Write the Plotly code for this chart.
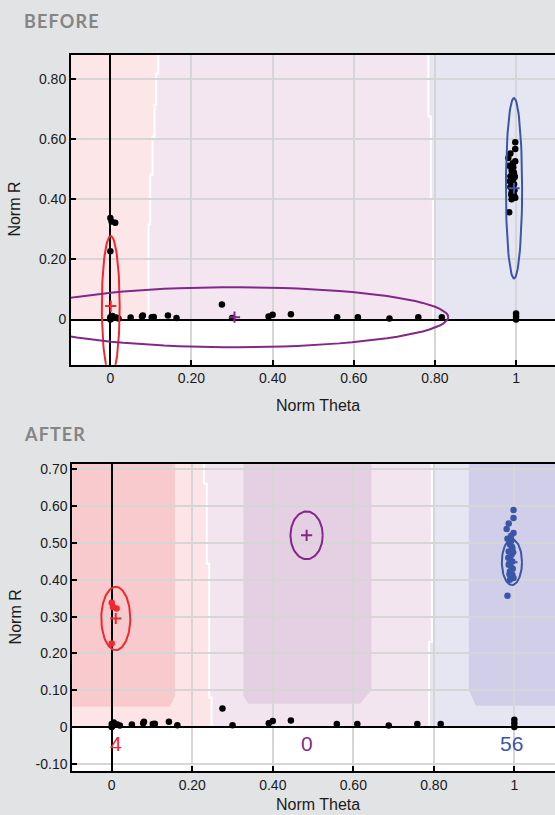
import numpy as np
import plotly.graph_objects as go

# ---------------- data ----------------
# unclassified points lying near r = 0
other_theta = [0.0, 0.0, 0.003, 0.005, 0.014, 0.02, 0.05, 0.078, 0.08, 0.102, 0.107, 0.142, 0.163,
               0.275, 0.30, 0.39, 0.40, 0.445, 0.559, 0.61, 0.688, 0.759, 0.817, 1.0, 1.0, 1.0]
other_r = [0.0, 0.008, 0.004, 0.012, 0.007, 0.004, 0.007, 0.01, 0.014, 0.008, 0.009, 0.014, 0.005,
           0.05, 0.005, 0.01, 0.016, 0.018, 0.008, 0.008, 0.004, 0.008, 0.008, 0.0, 0.01, 0.02]
# points that end up in the red cluster
red_theta = [0.0, 0.003, 0.012, 0.0]
red_r = [0.338, 0.326, 0.322, 0.227]
# points that end up in the blue cluster
blue_theta = [0.998, 0.998, 0.986, 0.981, 0.998, 0.983, 0.993, 0.989, 0.995, 0.986, 0.993, 0.989,
              0.995, 0.986, 0.993, 0.989, 0.995, 0.998, 0.989, 0.983, 0.992, 0.997, 0.985, 0.99,
              0.996, 0.988, 0.994, 0.991]
blue_r = [0.590, 0.568, 0.553, 0.538, 0.527, 0.512, 0.507, 0.496, 0.486, 0.477, 0.468, 0.459,
          0.450, 0.441, 0.432, 0.423, 0.414, 0.405, 0.400, 0.357, 0.520, 0.475, 0.460, 0.445,
          0.430, 0.415, 0.490, 0.505]

cluster_names = ["red", "purple", "blue"]
before_center_theta = [0.001, 0.306, 0.995]
before_center_r = [0.045, 0.008, 0.437]
before_semi_theta = [0.022, 0.527, 0.020]
before_semi_r = [0.233, 0.100, 0.300]
after_center_theta = [0.010, 0.484, 0.994]
after_center_r = [0.295, 0.521, 0.448]
after_semi_theta = [0.036, 0.040, 0.025]
after_semi_r = [0.086, 0.065, 0.062]
after_counts = ["4", "0", "56"]

# region boundaries (theta at given r)
before_pink_edge_r = [0, 0.316, 0.316, 0.482, 0.482, 0.609, 0.609, 0.714, 0.714, 0.819, 0.819, 0.95]
before_pink_edge_theta = [0.094, 0.094, 0.098, 0.098, 0.104, 0.104, 0.109, 0.109, 0.113, 0.113, 0.118, 0.118]
before_blue_edge_r = [0, 0.40, 0.40, 0.676, 0.676, 0.95]
before_blue_edge_theta = [0.796, 0.796, 0.790, 0.790, 0.784, 0.784]
after_pink_edge_r = [0, 0.08, 0.08, 0.444, 0.444, 0.662, 0.662, 0.8]
after_pink_edge_theta = [0.248, 0.248, 0.242, 0.242, 0.236, 0.236, 0.229, 0.229]
after_blue_edge_r = [0, 0.231, 0.231, 0.8]
after_blue_edge_theta = [0.788, 0.788, 0.795, 0.795]
# core (dark) zones after: theta corners and r floor
core_left = [-0.3, 0.327, 0.887]
core_right = [0.157, 0.645, 1.3]
core_floor = [0.055, 0.063, 0.058]

x_ticks = [0, 0.2, 0.4, 0.6, 0.8, 1]
x_ticktext = ["0", "0.20", "0.40", "0.60", "0.80", "1"]
before_y_ticks = [0, 0.2, 0.4, 0.6, 0.8]
before_y_ticktext = ["0", "0.20", "0.40", "0.60", "0.80"]
after_y_ticks = [-0.1, 0, 0.1, 0.2, 0.3, 0.4, 0.5, 0.6, 0.7]
after_y_ticktext = ["-0.10", "0", "0.10", "0.20", "0.30", "0.40", "0.50", "0.60", "0.70"]

# ---------------- styling ----------------
W, H = 555, 815
BG = "#e2e3e5"
RED = "#ec2a2f"
PURPLE = "#83288a"
BLUE = "#3a56a8"
cluster_colors = [RED, PURPLE, BLUE]
FONT = "Liberation Sans, Arial, sans-serif"


def path(xs, ys):
    s = "M %f,%f" % (xs[0], ys[0])
    for x, y in zip(xs[1:], ys[1:]):
        s += " L %f,%f" % (x, y)
    return s + " Z"


def line_path(xs, ys):
    s = "M %f,%f" % (xs[0], ys[0])
    for x, y in zip(xs[1:], ys[1:]):
        s += " L %f,%f" % (x, y)
    return s


def ellipse(ct, cr, st, sr, n=90):
    t = np.linspace(0, 2 * np.pi, n)
    return ct + st * np.cos(t), cr + sr * np.sin(t)


fig = go.Figure()
shapes = []

# ---- BEFORE backgrounds ----
top = before_pink_edge_r[-1]
shapes.append(dict(type="path", xref="x", yref="y", layer="below", line=dict(width=0),
                   fillcolor="#fce6e8",
                   path=path([-0.3] + before_pink_edge_theta + [-0.3], [0] + before_pink_edge_r + [top])))
shapes.append(dict(type="path", xref="x", yref="y", layer="below", line=dict(width=0),
                   fillcolor="#f3e6f0",
                   path=path(before_pink_edge_theta + before_blue_edge_theta[::-1],
                             before_pink_edge_r + before_blue_edge_r[::-1])))
shapes.append(dict(type="path", xref="x", yref="y", layer="below", line=dict(width=0),
                   fillcolor="#e6e6f2",
                   path=path(before_blue_edge_theta + [1.3, 1.3], before_blue_edge_r + [top, 0])))
for th, rr in [(before_pink_edge_theta, before_pink_edge_r), (before_blue_edge_theta, before_blue_edge_r)]:
    shapes.append(dict(type="path", xref="x", yref="y", layer="below",
                       line=dict(color="white", width=2), path=line_path(th, rr)))

# ---- AFTER backgrounds ----
top2 = after_pink_edge_r[-1]
shapes.append(dict(type="path", xref="x2", yref="y2", layer="below", line=dict(width=0),
                   fillcolor="#fde5e7",
                   path=path([-0.3] + after_pink_edge_theta + [-0.3], [0] + after_pink_edge_r + [top2])))
shapes.append(dict(type="path", xref="x2", yref="y2", layer="below", line=dict(width=0),
                   fillcolor="#f3e5ef",
                   path=path(after_pink_edge_theta + after_blue_edge_theta[::-1],
                             after_pink_edge_r + after_blue_edge_r[::-1])))
shapes.append(dict(type="path", xref="x2", yref="y2", layer="below", line=dict(width=0),
                   fillcolor="#e6e6f2",
                   path=path(after_blue_edge_theta + [1.3, 1.3], after_blue_edge_r + [top2, 0])))
core_colors = ["#f8cacd", "#e5cfe3", "#d0cee9"]
for i in range(3):
    l, r, f = core_left[i], core_right[i], core_floor[i]
    if i == 0:
        xs = [l, r - 0.012, r, r, l]
        ys = [f, f, f + 0.03, top2, top2]
    elif i == 1:
        xs = [l, l + 0.012, r - 0.028, r, r, l]
        ys = [f + 0.022, f, f, f + 0.037, top2, top2]
    else:
        xs = [l, l + 0.018, r, r, l]
        ys = [f + 0.042, f, f, top2, top2]
    shapes.append(dict(type="path", xref="x2", yref="y2", layer="below", line=dict(width=0),
                       fillcolor=core_colors[i], path=path(xs, ys)))
for th, rr in [(after_pink_edge_theta, after_pink_edge_r), (after_blue_edge_theta, after_blue_edge_r)]:
    shapes.append(dict(type="path", xref="x2", yref="y2", layer="below",
                       line=dict(color="white", width=2), path=line_path(th, rr)))

MS = 6.5
# ---- BEFORE traces ----
fig.add_trace(go.Scatter(x=other_theta + red_theta + blue_theta, y=other_r + red_r + blue_r,
                         mode="markers", marker=dict(color="black", size=MS),
                         xaxis="x", yaxis="y", showlegend=False))
for i in range(3):
    ex, ey = ellipse(before_center_theta[i], before_center_r[i], before_semi_theta[i], before_semi_r[i])
    fig.add_trace(go.Scatter(x=ex, y=ey, mode="lines", line=dict(color=cluster_colors[i], width=2),
                             xaxis="x", yaxis="y", showlegend=False))
    fig.add_trace(go.Scatter(x=[before_center_theta[i]], y=[before_center_r[i]], mode="markers",
                             marker=dict(symbol="cross-thin", size=8, line=dict(color=cluster_colors[i], width=2)),
                             xaxis="x", yaxis="y", showlegend=False))

# ---- AFTER traces ----
fig.add_trace(go.Scatter(x=other_theta, y=other_r, mode="markers", marker=dict(color="black", size=MS),
                         xaxis="x2", yaxis="y2", showlegend=False))
fig.add_trace(go.Scatter(x=red_theta, y=red_r, mode="markers", marker=dict(color=RED, size=MS),
                         xaxis="x2", yaxis="y2", showlegend=False))
fig.add_trace(go.Scatter(x=blue_theta, y=blue_r, mode="markers", marker=dict(color=BLUE, size=MS),
                         xaxis="x2", yaxis="y2", showlegend=False))
for i in range(3):
    ex, ey = ellipse(after_center_theta[i], after_center_r[i], after_semi_theta[i], after_semi_r[i])
    fig.add_trace(go.Scatter(x=ex, y=ey, mode="lines", line=dict(color=cluster_colors[i], width=2),
                             xaxis="x2", yaxis="y2", showlegend=False))
    fig.add_trace(go.Scatter(x=[after_center_theta[i]], y=[after_center_r[i]], mode="markers",
                             marker=dict(symbol="cross-thin", size=8, line=dict(color=cluster_colors[i], width=2)),
                             xaxis="x2", yaxis="y2", showlegend=False))

annotations = []
for i in range(3):
    annotations.append(dict(x=after_center_theta[i], y=-0.045, xref="x2", yref="y2", text=after_counts[i],
                            showarrow=False, font=dict(family=FONT, size=21, color=cluster_colors[i]),
                            xanchor="center", yanchor="middle"))

HS = "\u200a"
for txt, ypx in [("BEFORE", 19.5), ("AFTER", 434)]:
    annotations.append(dict(x=22 / W, y=1 - ypx / H, xref="paper", yref="paper", text=HS.join(txt),
                            showarrow=False, xanchor="left", yanchor="middle",
                            font=dict(family="Lato, Open Sans, sans-serif", size=18, color="#858585", weight="bold")))
for (ytop, ybot, ylab) in [(52.7, 364, 405), (463.3, 772, 805)]:
    annotations.append(dict(x=15 / W, y=1 - (ytop + ybot) / 2 / H, xref="paper", yref="paper", text="Norm R",
                            textangle=-90, showarrow=False, xanchor="center", yanchor="middle",
                            font=dict(family=FONT, size=16, color="#1a1a1a")))
    annotations.append(dict(x=318 / W, y=1 - ylab / H, xref="paper", yref="paper", text="Norm Theta",
                            showarrow=False, xanchor="center", yanchor="middle",
                            font=dict(family=FONT, size=16, color="#1a1a1a")))

axis_common = dict(showgrid=True, gridcolor="#d6d6d6", gridwidth=2,
                   zeroline=True, zerolinecolor="black", zerolinewidth=2,
                   showline=True, linecolor="black", linewidth=2,
                   ticks="inside", ticklen=5, tickwidth=2, tickcolor="black",
                   tickfont=dict(family=FONT, size=14, color="#1a1a1a"), fixedrange=True)

fig.update_layout(
    width=W, height=H, margin=dict(l=0, r=0, t=0, b=0),
    paper_bgcolor=BG, plot_bgcolor="white",
    shapes=shapes, annotations=annotations, hovermode=False,
    xaxis=dict(domain=[71 / W, 1.0], range=[-0.097, 1.096], anchor="y", mirror=True,
               tickvals=x_ticks, ticktext=x_ticktext, **axis_common),
    yaxis=dict(domain=[1 - 364 / H, 1 - 52.7 / H], range=[-0.150, 0.882], anchor="x",
               tickvals=before_y_ticks, ticktext=before_y_ticktext, **axis_common),
    xaxis2=dict(domain=[72.3 / W, 1.0], range=[-0.098, 1.101], anchor="y2", mirror=True,
                tickvals=x_ticks, ticktext=x_ticktext, **axis_common),
    yaxis2=dict(domain=[1 - 772 / H, 1 - 463.3 / H], range=[-0.12, 0.716], anchor="x2",
                tickvals=after_y_ticks, ticktext=after_y_ticktext, **axis_common),
)

fig.write_html("out.html", config={"displayModeBar": False},
               post_script="document.body.style.margin='0';document.body.style.overflow='hidden';"
                           "document.body.style.background='" + BG + "';")
